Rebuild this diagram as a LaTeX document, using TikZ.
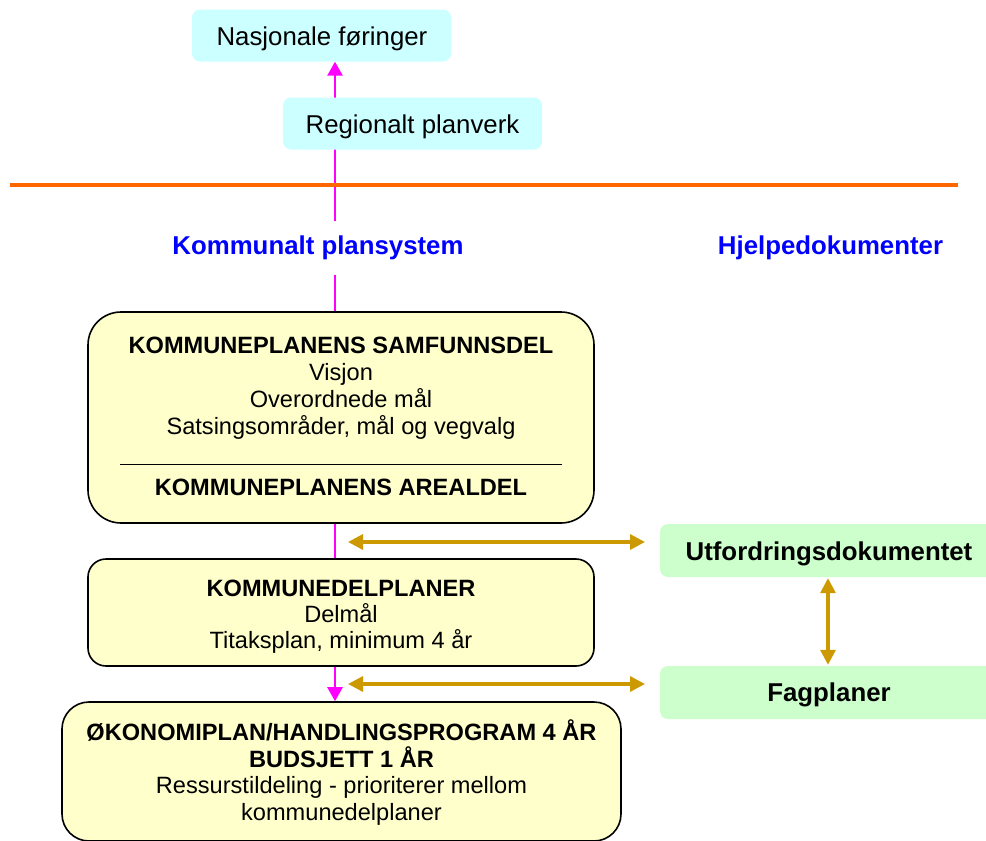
\documentclass[tikz,border=0pt]{standalone}
\usepackage{fontspec}
\setmainfont{Liberation Sans}
\usetikzlibrary{arrows.meta}
\definecolor{cyanfill}{HTML}{CCFFFF}
\definecolor{yellowfill}{HTML}{FFFFCC}
\definecolor{greenfill}{HTML}{CCFFCC}
\definecolor{goldcol}{HTML}{CC9900}
\definecolor{magcol}{HTML}{FF00FF}
\definecolor{orangecol}{HTML}{FF6600}
\definecolor{headblue}{HTML}{0000FF}
\begin{document}
\begin{tikzpicture}[x=1pt,y=-1pt,
  bigtext/.style={font=\fontsize{25.8}{30}\selectfont, inner sep=0pt, anchor=base},
  bigbold/.style={font=\fontsize{25.8}{30}\selectfont\bfseries, inner sep=0pt, anchor=base},
  bodytext/.style={font=\fontsize{23.6}{26.7}\selectfont, inner sep=0pt, anchor=base},
  boldtext/.style={font=\fontsize{23.6}{26.7}\selectfont\bfseries, inner sep=0pt, anchor=base},
  headtext/.style={font=\fontsize{25.8}{30}\selectfont\bfseries, text=headblue, fill=white, inner xsep=2pt, inner ysep=0pt, minimum height=54pt},
  cyanbox/.style={fill=cyanfill, rounded corners=8pt, inner sep=0pt, draw=none},
  greenbox/.style={fill=greenfill, rounded corners=8pt, inner sep=0pt, draw=none},
  yellowbox/.style={fill=yellowfill, draw=black, line width=1.6pt, inner sep=0pt},
  magconn/.style={draw=magcol, line width=2.6pt},
  magarrow/.style={magconn, -{Triangle[length=14pt,width=15pt]}},
  goldarrow/.style={draw=goldcol, line width=3.2pt, {Triangle[length=15pt,width=15pt]}-{Triangle[length=15pt,width=15pt]}},
]
\useasboundingbox (0,0) rectangle (986,841);
\coordinate (mx) at (335,0);

% top national box
\node[cyanbox, minimum width=259pt, minimum height=52pt] (nasj) at (321.5,35.5) {};
\node[bigtext] (nasjt) at (322,45) {Nasjonale føringer};

% main box 1
\node[yellowbox, rounded corners=33pt, minimum width=506pt, minimum height=211pt] (box1) at (341,417.5) {};

% magenta vertical line up to national box
\draw[magarrow] (box1.north -| mx) -- (nasj.south -| mx);

% regional box
\node[cyanbox, minimum width=259pt, minimum height=52pt] (reg) at (412.5,123.5) {};
\node[bigtext] (regt) at (412.5,133) {Regionalt planverk};

% orange separator
\draw[orangecol, line width=3.5pt] (10,185) -- (958,185);

% headings
\node[headtext] (kps) at (318,248) {Kommunalt plansystem};
\node[headtext] (hjelp) at (830.5,248) {Hjelpedokumenter};

% texts box 1
\node[boldtext] (b1a) at (341,353.5) {KOMMUNEPLANENS SAMFUNNSDEL};
\node[bodytext] (b1b) at (341,380.5) {Visjon};
\node[bodytext] (b1c) at (341,407) {Overordnede mål};
\node[bodytext] (b1d) at (341,434) {Satsingsområder, mål og vegvalg};
\draw[black, line width=1.4pt] (120,464.5) -- (562,464.5);
\node[boldtext] (b1e) at (341,495) {KOMMUNEPLANENS AREALDEL};

% box 2
\node[yellowbox, rounded corners=18pt, minimum width=506pt, minimum height=107pt] (box2) at (341,612.5) {};
\node[boldtext] (b2a) at (341,596) {KOMMUNEDELPLANER};
\node[bodytext] (b2b) at (341,622) {Delmål};
\node[bodytext] (b2c) at (341,648) {Titaksplan, minimum 4 år};

% box 3
\node[yellowbox, rounded corners=27pt, minimum width=559pt, minimum height=139pt] (box3) at (341.5,771.5) {};
\node[boldtext] (b3a) at (341.5,740) {ØKONOMIPLAN/HANDLINGSPROGRAM 4 ÅR};
\node[boldtext] (b3b) at (341.5,767) {BUDSJETT 1 ÅR};
\node[bodytext] (b3c) at (341.5,793) {Ressurstildeling - prioriterer mellom};
\node[bodytext] (b3d) at (341.5,820) {kommunedelplaner};

% magenta connectors between boxes
\draw[magconn] (box1.south -| mx) -- (box2.north -| mx);
\draw[magarrow] (box2.south -| mx) -- (box3.north -| mx);

% green helper boxes
\node[greenbox, minimum width=340pt, minimum height=53pt] (utf) at (830,550.5) {};
\node[bigbold] (utft) at (829,560) {Utfordringsdokumentet};
\node[greenbox, minimum width=340pt, minimum height=53pt] (fag) at (830,692.5) {};
\node[bigbold] (fagt) at (829,701) {Fagplaner};

% gold double arrows
\coordinate (g1l) at (348,542);
\coordinate (g1r) at (645,542);
\coordinate (g2l) at (348,684);
\coordinate (g2r) at (645,684);
\coordinate (gx) at (828,0);
\draw[goldarrow] (g1l) -- (g1r);
\draw[goldarrow] (g2l) -- (g2r);
\draw[goldarrow, shorten <=1pt, shorten >=1pt] (utf.south -| gx) -- (fag.north -| gx);
\end{tikzpicture}
\end{document}
